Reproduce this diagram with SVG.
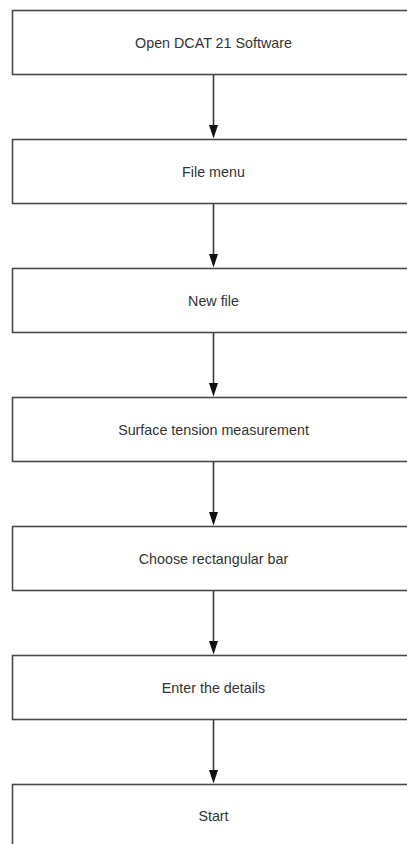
<svg xmlns="http://www.w3.org/2000/svg" width="407" height="844" viewBox="0 0 407 844">
<style>
.box{fill:#ffffff;stroke:#4a4a4a;stroke-width:1.6}
.lbl{font-family:"Liberation Sans",Arial,sans-serif;font-size:14.3px;fill:#333333;text-anchor:middle;dominant-baseline:central}
.conn line{stroke:#3a3a3a;stroke-width:1.6}
.conn polygon{fill:#111111;stroke:none}
</style>
<rect width="407" height="844" fill="#ffffff"/>
<g id="connectors" class="conn">
<line x1="213.5" y1="74.5" x2="213.5" y2="126"/><polygon points="209,125 218,125 213.5,138.5"/>
<line x1="213.5" y1="203.5" x2="213.5" y2="255"/><polygon points="209,254 218,254 213.5,267.5"/>
<line x1="213.5" y1="332.5" x2="213.5" y2="384"/><polygon points="209,383 218,383 213.5,396.5"/>
<line x1="213.5" y1="461.5" x2="213.5" y2="513"/><polygon points="209,512 218,512 213.5,525.5"/>
<line x1="213.5" y1="590.5" x2="213.5" y2="642"/><polygon points="209,641 218,641 213.5,654.5"/>
<line x1="213.5" y1="719.5" x2="213.5" y2="771"/><polygon points="209,770 218,770 213.5,783.5"/>
</g>
<g id="n1"><rect class="box" x="12.5" y="10.5" width="402" height="64"/><text class="lbl" x="213.5" y="42.5">Open DCAT 21 Software</text></g>
<g id="n2"><rect class="box" x="12.5" y="139.5" width="402" height="64"/><text class="lbl" x="213.5" y="171.5">File menu</text></g>
<g id="n3"><rect class="box" x="12.5" y="268.5" width="402" height="64"/><text class="lbl" x="213.5" y="300.5">New file</text></g>
<g id="n4"><rect class="box" x="12.5" y="397.5" width="402" height="64"/><text class="lbl" x="213.5" y="429.5">Surface tension measurement</text></g>
<g id="n5"><rect class="box" x="12.5" y="526.5" width="402" height="64"/><text class="lbl" x="213.5" y="558.5">Choose rectangular bar</text></g>
<g id="n6"><rect class="box" x="12.5" y="655.5" width="402" height="64"/><text class="lbl" x="213.5" y="687.5">Enter the details</text></g>
<g id="n7"><rect class="box" x="12.5" y="784.5" width="402" height="64"/><text class="lbl" x="213.5" y="815.5">Start</text></g>
</svg>
